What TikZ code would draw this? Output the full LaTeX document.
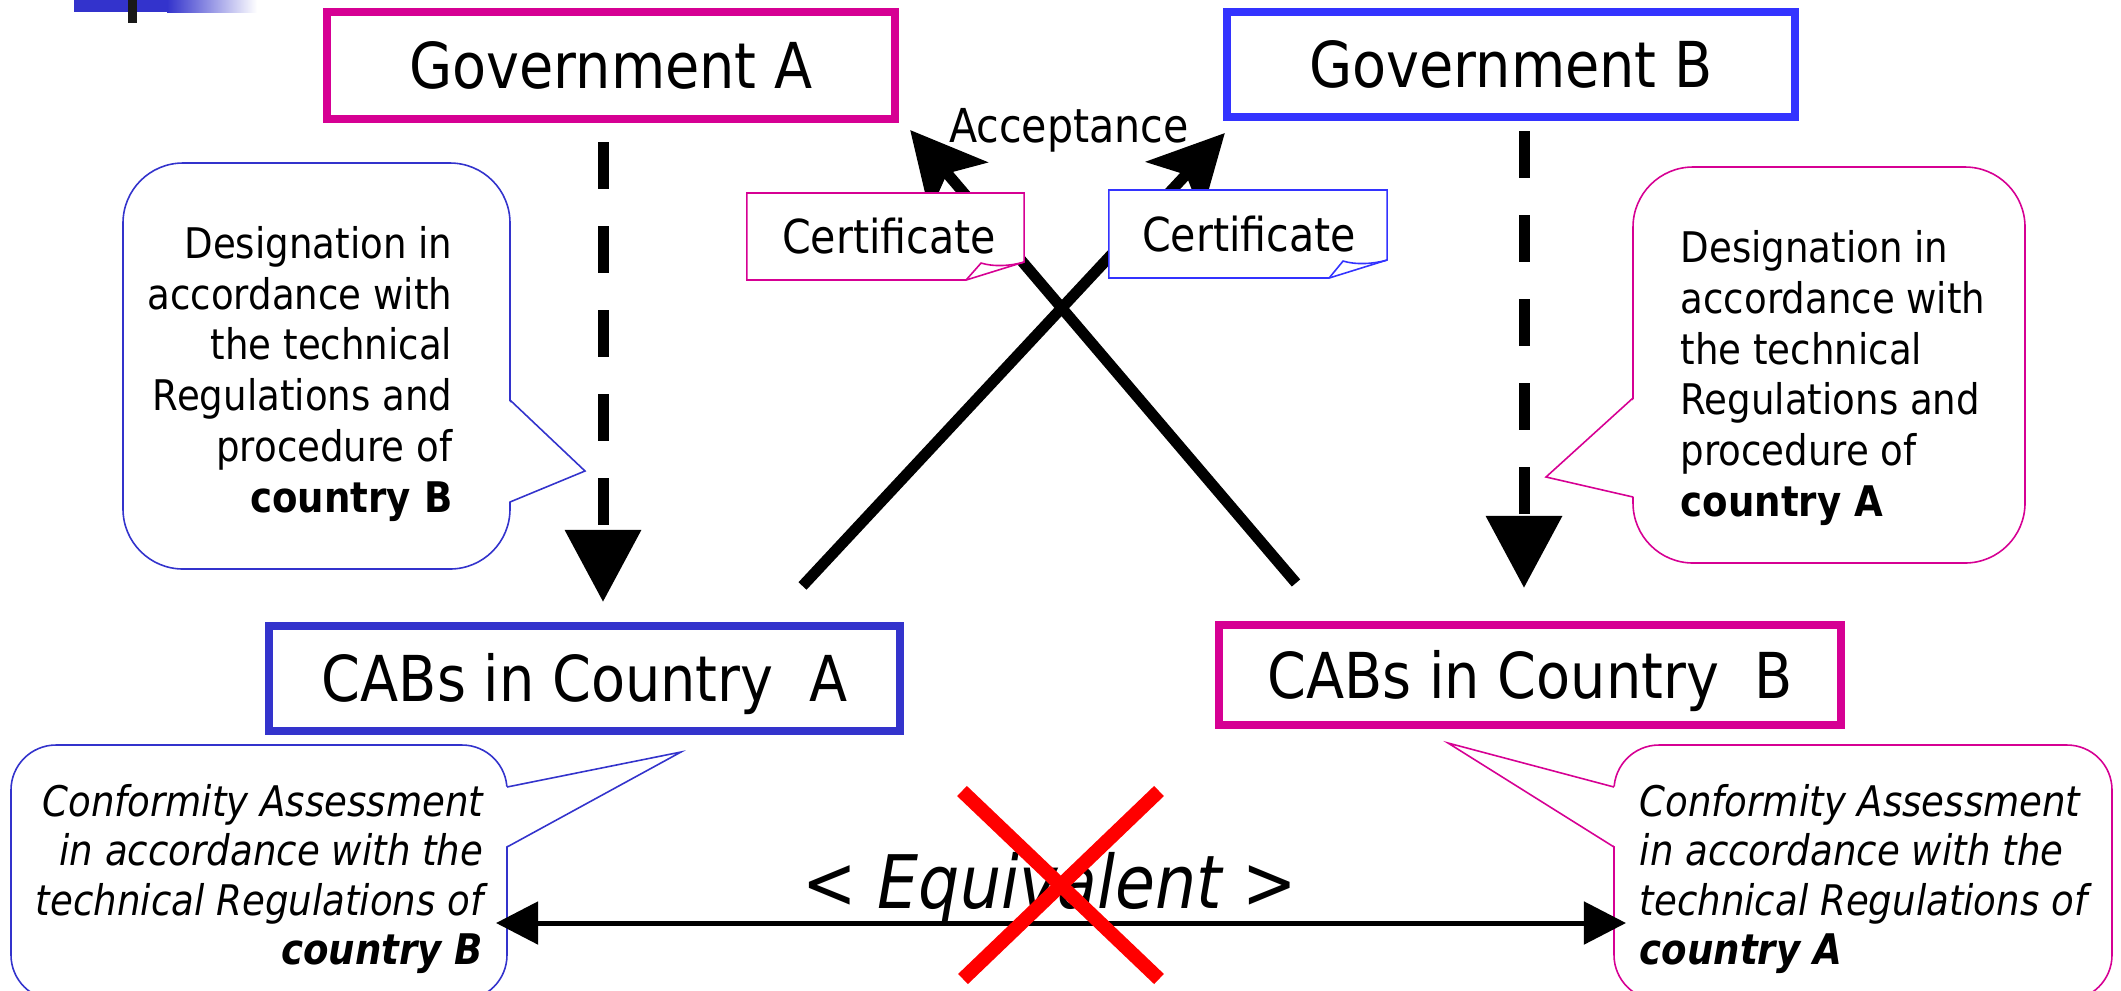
\documentclass[tikz,border=0pt]{standalone}
\usepackage{fontspec}
\setmainfont{DejaVu Sans}[FakeStretch=0.88]
\usetikzlibrary{arrows.meta,calc}
\definecolor{mag}{RGB}{214,0,147}
\definecolor{bluebright}{RGB}{51,51,255}
\definecolor{bluedeep}{RGB}{51,51,204}

\begin{document}
\begin{tikzpicture}[x=0.01cm,y=-0.01cm,
  titlebox/.style={draw, line width=2.28pt, fill=white, inner sep=0pt,
    font=\fontsize{18}{21}\selectfont, text height=13.1pt, text depth=0pt},
  noteframe/.style={inner sep=0pt, outer sep=0pt},
  notetext/.style={inner sep=0pt, font=\fontsize{13.3}{16}\selectfont,
    text height=9.7pt, text depth=0pt},
  notedraw/.style={fill=white, line width=0.45pt},
  balloon/.style={fill=white, line width=0.45pt},
  bodytext/.style={inner sep=0pt, font=\fontsize{12}{14.5}\selectfont},
  slanttext/.style={inner sep=0pt, font=\fontsize{12}{14.1}\selectfont\itshape},
  designarrow/.style={line width=3.13pt, dash pattern=on 13.4pt off 10.5pt,
    -{Triangle[length=20.5pt,width=21pt]}},
  acceptarrow/.style={line width=3.13pt,
    -{Stealth[length=21.2pt,width=21.5pt,inset=5pt]}},
  equivarrow/.style={line width=1.42pt,
    {Triangle[length=12pt,width=12pt]}-{Triangle[length=12pt,width=12pt]}},
  crossmark/.style={red, line width=4pt}
]
\useasboundingbox (0,0) rectangle (2121,990);

% corner ornament
\fill[bluedeep] (74,0) rectangle (167,12);
\shade[left color=bluedeep, right color=white] (167,0) rectangle (257,12);
\fill[black!90] (128,0) rectangle (137,23);

% designation balloons
\draw[balloon, draw=bluedeep, rounded corners=0.6cm] (123,163) rectangle (510,569);
\fill[white] (508,400) -- (585,471) -- (508,502) -- cycle;
\draw[bluedeep, line width=0.45pt] (510,400) -- (585,471) -- (510,502);
\node[bodytext, align=right, anchor=east] (desigB) at (453,374)
  {Designation in\\accordance with\\the technical\\Regulations and\\procedure of\\\textbf{country B}};

\draw[balloon, draw=mag, rounded corners=0.6cm] (1633,167) rectangle (2025,563);
\fill[white] (1635,398) -- (1546,477) -- (1635,497) -- cycle;
\draw[mag, line width=0.45pt] (1633,398) -- (1546,477) -- (1633,497);
\node[bodytext, align=left, anchor=west] (desigA) at (1680,378)
  {Designation in\\accordance with\\the technical\\Regulations and\\procedure of\\\textbf{country A}};

% governments and conformity assessment bodies
\node[titlebox, draw=mag, minimum width=5.68cm, minimum height=1.07cm] (govA) at (611,65.5) {Government A};
\node[titlebox, draw=bluebright, minimum width=5.68cm, minimum height=1.05cm] (govB) at (1511,64.5) {Government B};
\node[titlebox, draw=bluedeep, minimum width=6.31cm, minimum height=1.05cm] (cabA) at (584.5,678.5) {CABs in Country\ \ A};
\node[titlebox, draw=mag, minimum width=6.22cm, minimum height=1.00cm] (cabB) at (1530,675) {CABs in Country\ \ B};

% designation arrows
\coordinate (dA) at (603,0);
\coordinate (dB) at (1524,0);
\draw[designarrow] ($(govA.south -| dA)+(0,19)$) -- ($(cabA.north -| dA)+(0,-20)$);
\draw[designarrow] ($(govB.south -| dB)+(0,10)$) -- ($(cabB.north -| dB)+(0,-33)$);

% certificates crossing over to the other government
\draw[acceptarrow] ($(cabA.north)+(218,-36)$) -- ($(govB.south west)+(2,12)$);
\draw[acceptarrow] ($(cabB.north)+(-234,-38)$) -- ($(govA.south east)+(11,7)$);

\node[noteframe, minimum width=2.77cm, minimum height=0.87cm] (certA) at (885.5,236.5) {};
\draw[notedraw, draw=mag] (certA.north west) -- (certA.north east)
  -- ($(certA.south east)+(0,-18)$) -- ($(certA.south east)+(-58,0)$)
  -- (certA.south west) -- cycle;
\draw[mag, line width=0.45pt] ($(certA.south east)+(-58,0)$) -- ($(certA.south east)+(-43,-17)$)
  .. controls ($(certA.south east)+(-30,-13)$) and ($(certA.south east)+(-14,-14)$) .. ($(certA.south east)+(0,-18)$);
\node[notetext] (certAtext) at (889,236) {Certificate};

\node[noteframe, minimum width=2.78cm, minimum height=0.88cm] (certB) at (1248,234) {};
\draw[notedraw, draw=bluebright] (certB.north west) -- (certB.north east)
  -- ($(certB.south east)+(0,-18)$) -- ($(certB.south east)+(-58,0)$)
  -- (certB.south west) -- cycle;
\draw[bluebright, line width=0.45pt] ($(certB.south east)+(-58,0)$) -- ($(certB.south east)+(-44,-17)$)
  .. controls ($(certB.south east)+(-31,-13)$) and ($(certB.south east)+(-14,-14)$) .. ($(certB.south east)+(0,-18)$);
\node[notetext] (certBtext) at (1249,234) {Certificate};

\node[inner sep=0pt, font=\fontsize{13.3}{16}\selectfont, anchor=base] (accept) at (1069,142) {Acceptance};

% conformity assessment balloons
\draw[balloon, draw=bluedeep, rounded corners=0.45cm] (11,745) rectangle (507,1000);
\fill[white] (505,787) -- (681,752) -- (505,847) -- cycle;
\draw[bluedeep, line width=0.45pt] (507,787) -- (681,752) -- (507,847);
\node[slanttext, align=right, anchor=east] (confB) at (484,879)
  {Conformity Assessment\\in accordance with the\\technical Regulations of\\\textbf{country B}};

\draw[balloon, draw=mag, rounded corners=0.45cm] (1614,745) rectangle (2112,1000);
\fill[white] (1616,787) -- (1448,743) -- (1616,847) -- cycle;
\draw[mag, line width=0.45pt] (1614,787) -- (1448,743) -- (1614,847);
\node[slanttext, align=left, anchor=west] (confA) at (1639,879)
  {Conformity Assessment\\in accordance with the\\technical Regulations of\\\textbf{country A}};

% equivalence, struck out
\coordinate (eqL) at (496,923);
\coordinate (eqR) at (1626,923);
\draw[equivarrow] (eqL) -- (eqR);
\node[inner sep=0pt, font=\fontsize{21}{25}\selectfont\itshape, anchor=base] (equiv) at (1050,908) {< Equivalent >};
\draw[crossmark] (962,791) -- (1159,979);
\draw[crossmark] (1159,791) -- (963,979);
\end{tikzpicture}
\end{document}
